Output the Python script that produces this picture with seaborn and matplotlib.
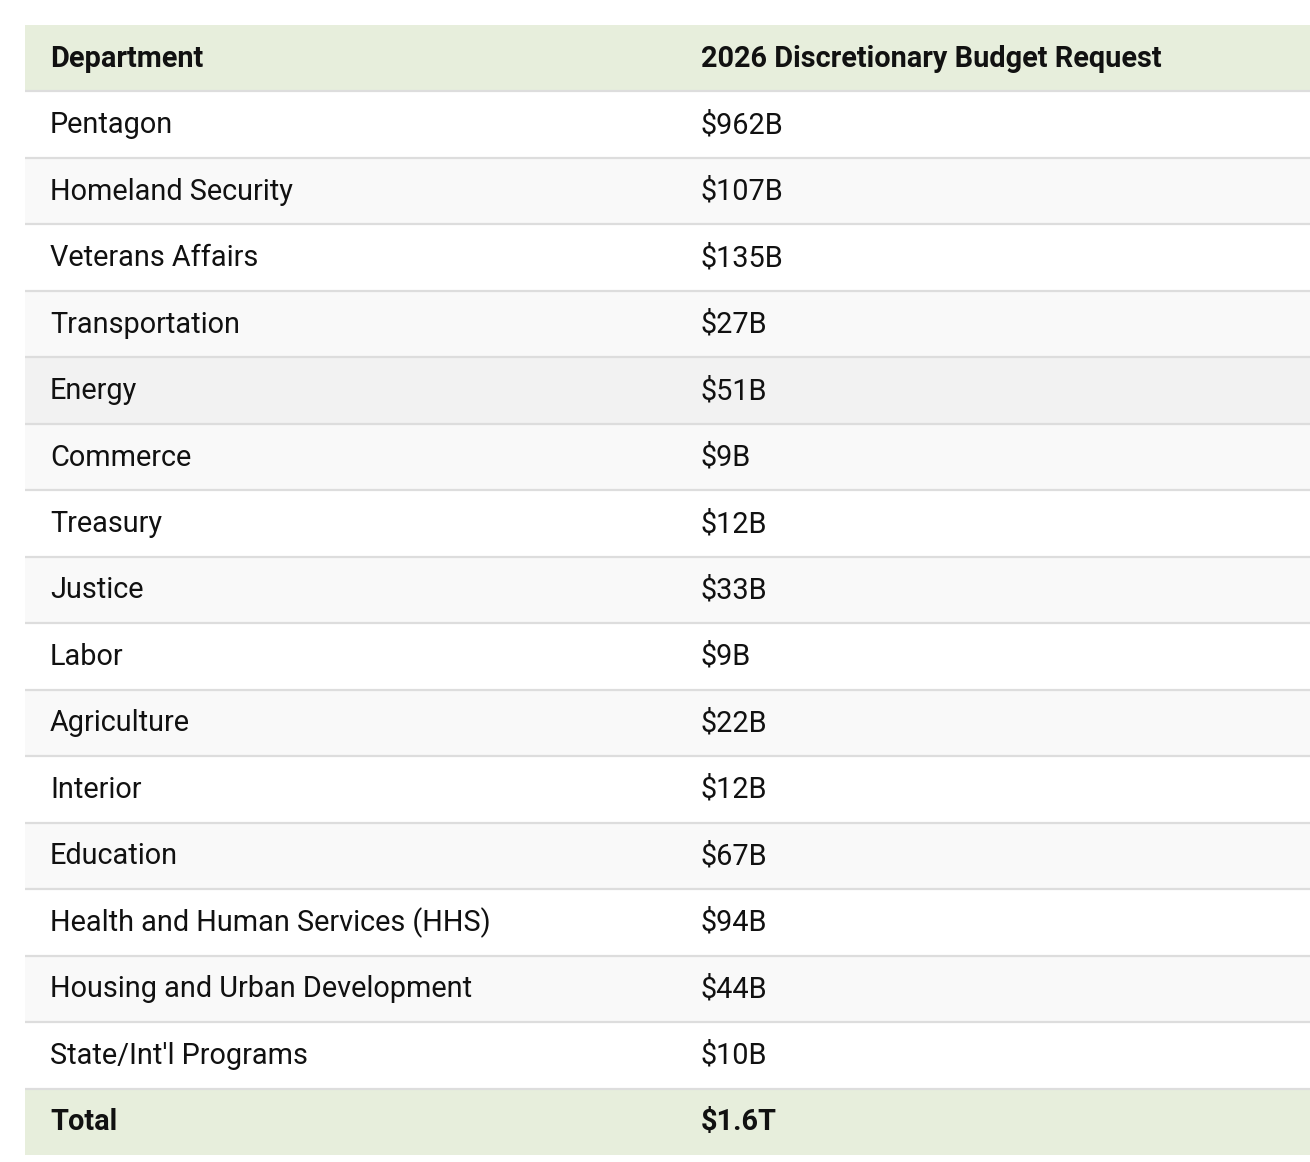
import numpy as np
import seaborn as sns
import matplotlib.pyplot as plt
from matplotlib.colors import ListedColormap

# table data
header = ["Department", "2026 Discretionary Budget Request"]
departments = [
    "Pentagon", "Homeland Security", "Veterans Affairs", "Transportation",
    "Energy", "Commerce", "Treasury", "Justice", "Labor", "Agriculture",
    "Interior", "Education", "Health and Human Services (HHS)",
    "Housing and Urban Development", "State/Int'l Programs",
]
requests = [
    "$962B", "$107B", "$135B", "$27B", "$51B", "$9B", "$12B", "$33B",
    "$9B", "$22B", "$12B", "$67B", "$94B", "$44B", "$10B",
]
total = ["Total", "$1.6T"]

# styling
W, H, DPI = 1310, 1162, 100
FONT = 20.8
TEXT_COLOR = "#111111"
HOVER_ROW = 4  # the Energy row is shown highlighted in the reference
shades = ["#e7eedc", "#ffffff", "#f9f9f9", "#f2f2f2"]

n_rows = len(departments) + 2
row_shade = [0]
for i in range(len(departments)):
    if i == HOVER_ROW:
        row_shade.append(3)
    else:
        row_shade.append(1 if i % 2 == 0 else 2)
row_shade.append(0)

sns.set_theme(style="white")
plt.rcParams["font.family"] = ["Roboto", "DejaVu Sans"]

fig = plt.figure(figsize=(W / DPI, H / DPI), dpi=DPI)
left, top, bottom = 25, 25, 1155
ax = fig.add_axes([left / W, 1 - bottom / H, (W - left) / W, (bottom - top) / H])

sns.heatmap(np.array(row_shade).reshape(-1, 1), ax=ax, cmap=ListedColormap(shades),
            vmin=-0.5, vmax=3.5, cbar=False, xticklabels=False, yticklabels=False)
ax.set_xlim(0, 1)
ax.set_ylim(n_rows, 0)
for s in ax.spines.values():
    s.set_visible(False)

# row separators
ax.hlines(np.arange(1, n_rows), 0, 1, color="#dddddd", lw=1.6)

col_x = [(50 - left) / (W - left), (701 - left) / (W - left)]
base = 0.5 + 8.5 / 66.5

rows = [header] + list(zip(departments, requests)) + [total]
for r, (a, b) in enumerate(rows):
    bold = r == 0 or r == n_rows - 1
    for x, txt in zip(col_x, (a, b)):
        ax.text(x, r + base, txt, fontsize=FONT, color=TEXT_COLOR,
                fontweight="bold" if bold else "normal", va="baseline", ha="left")

fig.savefig("out.png", dpi=DPI, facecolor="white")
